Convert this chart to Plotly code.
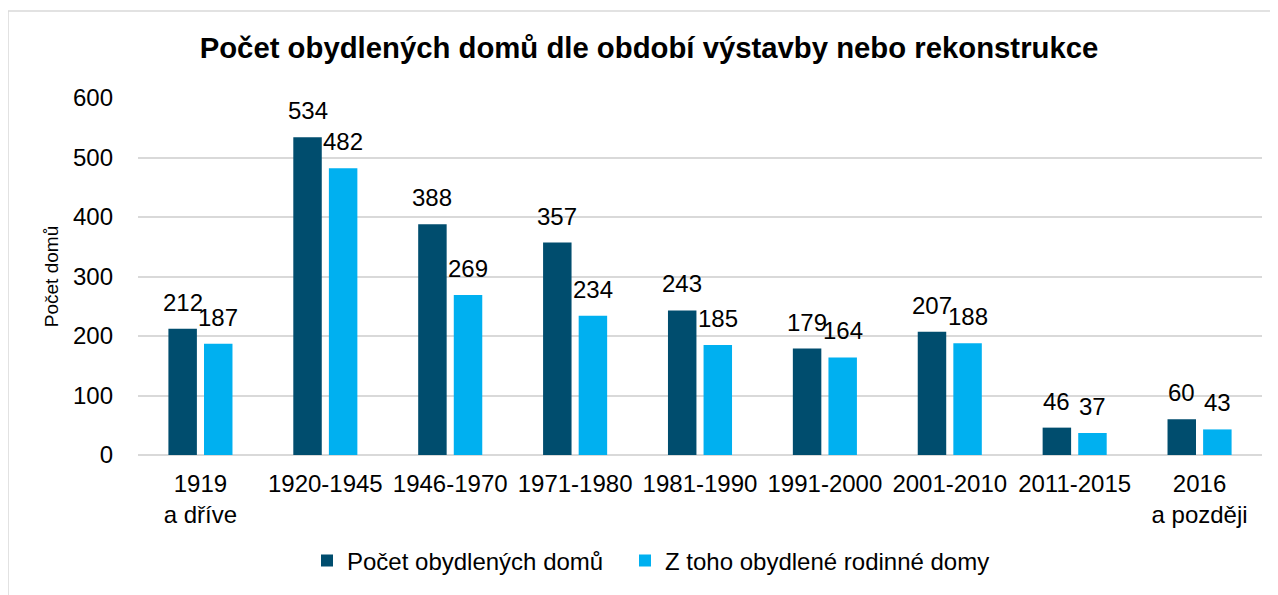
import plotly.graph_objects as go

categories = ["1919<br>a dříve", "1920-1945", "1946-1970", "1971-1980", "1981-1990",
              "1991-2000", "2001-2010", "2011-2015", "2016<br>a později"]
total_houses = [212, 534, 388, 357, 243, 179, 207, 46, 60]
family_houses = [187, 482, 269, 234, 185, 164, 188, 37, 43]
series_names = ["Počet obydlených domů", "Z toho obydlené rodinné domy"]
y_ticks = [0, 100, 200, 300, 400, 500, 600]

FONT = "Liberation Sans, Arial, sans-serif"
DARK = "#004D6E"
LIGHT = "#00B0F0"

W, H = 1270, 587
L, R, T, B = 130, 16, 90, 136
PW, PH = W - L - R, H - T - B

fig = go.Figure()
for name, vals, col, lg in [(series_names[0], total_houses, DARK, "legend"),
                            (series_names[1], family_houses, LIGHT, "legend2")]:
    fig.add_trace(go.Bar(
        x=categories, y=vals, name=name, legend=lg,
        marker=dict(color=col, line=dict(width=0)),
    ))

# data labels
slot = PW / len(categories) * (1 - 0.43) / 2
annotations = []
for vals, sign in [(total_houses, -1), (family_houses, 1)]:
    for c, v in zip(categories, vals):
        annotations.append(dict(x=c, y=v, xref="x", yref="y", text=str(v), showarrow=False,
                                xanchor="center", yanchor="bottom", xshift=sign * slot / 2, yshift=11,
                                font=dict(family=FONT, size=24, color="#000000")))

legend_y = (T + PH - 558) / PH
fig.update_layout(
    width=W, height=H,
    paper_bgcolor="white", plot_bgcolor="white",
    margin=dict(l=L, r=R, t=T, b=B),
    barmode="group", bargap=0.43, bargroupgap=0.2,
    font=dict(family=FONT, size=24, color="#000000"),
    title=dict(text="<b>Počet obydlených domů dle období výstavby nebo rekonstrukce</b>",
               x=(641 - L) / PW, xanchor="center", xref="paper", y=1 - 40 / H, yanchor="middle",
               font=dict(family=FONT, size=29.3, color="#000000")),
    legend=dict(orientation="h", x=(299 - L) / PW, xanchor="left", y=legend_y, yanchor="middle",
                font=dict(family=FONT, size=24)),
    legend2=dict(orientation="h", x=(617 - L) / PW, xanchor="left", y=legend_y, yanchor="middle",
                 font=dict(family=FONT, size=24)),
    showlegend=True,
    xaxis=dict(showgrid=False, showline=False, ticks="", ticklabelstandoff=12,
               tickfont=dict(family=FONT, size=24)),
    yaxis=dict(range=[0, 600], tickvals=y_ticks, showgrid=True, gridcolor="#D9D9D9", gridwidth=1.5,
               zeroline=True, zerolinecolor="#D9D9D9", zerolinewidth=1.5, showline=False, ticks="",
               ticklabelstandoff=24, tickfont=dict(family=FONT, size=24),
               title=dict(text="Počet domů", standoff=9, font=dict(family=FONT, size=19))),
    annotations=annotations,
    shapes=[dict(type="rect", xref="paper", yref="paper",
                 x0=-L / PW, x1=1.05, y0=-0.6, y1=(T + PH - 2) / PH,
                 line=dict(color="#D9D9D9", width=1.5), fillcolor="rgba(0,0,0,0)", layer="below")],
)

fig.write_html("out.html")
